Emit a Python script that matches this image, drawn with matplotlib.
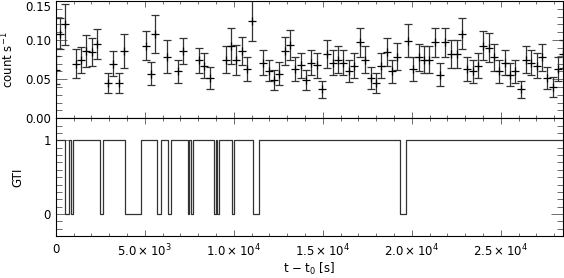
import matplotlib
matplotlib.use("Agg")
import matplotlib.pyplot as plt
from matplotlib.ticker import MultipleLocator, FixedLocator, FixedFormatter

# light curve bins: time [s], rate [count/s], 1-sigma error
time = [0, 242, 522, 1124, 1421, 1720, 2022, 2337, 2921, 3219, 3539, 3837,
        5056, 5354, 5600, 6236, 6854, 7152, 8051, 8348, 8652, 9551, 9848,
        10146, 10449, 10747, 11045, 11663, 11966, 12264, 12562, 12865, 13163,
        13461, 13764, 14062, 14360, 14663, 14961, 15258, 15562, 15860, 16157,
        16461, 16758, 17096, 17393, 17697, 17994, 18292, 18596, 18893, 19191,
        19792, 20090, 20393, 20691, 20989, 21292, 21590, 21888, 22191, 22528,
        22826, 23124, 23427, 23725, 24022, 24326, 24624, 24921, 25225, 25522,
        25820, 26124, 26421, 26719, 27022, 27320, 27618, 27921, 28219, 28483]
rate = [0.062, 0.108, 0.120, 0.070, 0.075, 0.086, 0.085, 0.095, 0.045, 0.070,
        0.045, 0.086, 0.093, 0.057, 0.108, 0.079, 0.060, 0.086, 0.074, 0.067,
        0.051, 0.075, 0.092, 0.075, 0.086, 0.063, 0.125, 0.071, 0.061, 0.049,
        0.057, 0.086, 0.094, 0.063, 0.068, 0.049, 0.071, 0.068, 0.037, 0.082,
        0.071, 0.075, 0.071, 0.061, 0.067, 0.097, 0.075, 0.052, 0.045, 0.067,
        0.085, 0.060, 0.079, 0.099, 0.063, 0.078, 0.075, 0.075, 0.097, 0.056,
        0.097, 0.082, 0.082, 0.108, 0.063, 0.060, 0.067, 0.093, 0.090, 0.078,
        0.060, 0.071, 0.056, 0.060, 0.037, 0.075, 0.071, 0.067, 0.078, 0.052,
        0.040, 0.063, 0.082]
rate_err = [0.018, 0.020, 0.026, 0.0185, 0.0166, 0.021, 0.018, 0.019, 0.013,
            0.016, 0.013, 0.022, 0.018, 0.0145, 0.0245, 0.021, 0.0145, 0.017,
            0.016, 0.016, 0.014, 0.017, 0.023, 0.019, 0.018, 0.015, 0.026,
            0.016, 0.013, 0.013, 0.0145, 0.018, 0.019, 0.015, 0.016, 0.013,
            0.016, 0.016, 0.011, 0.018, 0.016, 0.017, 0.016, 0.014, 0.016,
            0.0185, 0.017, 0.014, 0.013, 0.016, 0.018, 0.0145, 0.0175, 0.021,
            0.015, 0.017, 0.017, 0.017, 0.0185, 0.0145, 0.0185, 0.018, 0.018,
            0.020, 0.015, 0.0145, 0.016, 0.0185, 0.0185, 0.017, 0.0145, 0.016,
            0.0145, 0.0145, 0.011, 0.017, 0.016, 0.016, 0.017, 0.014, 0.0124,
            0.015, 0.018]

# good time intervals: switch times and state after each switch
gti_time = [0, 522, 747, 860, 972, 2489, 2676, 3893, 4775, 5708, 5899, 6292,
            6478, 7416, 7489, 7584, 7700, 8893, 8989, 9079, 9174, 9888, 10017,
            11101, 11421, 19343, 19663, 28500]
gti_val = [1, 0, 1, 0, 1, 0, 1, 0, 1, 0, 1, 0, 1, 0, 1, 0, 1, 0, 1, 0, 1, 0, 1,
           0, 1, 0, 1, 1]

x_ticks = [0, 5000, 10000, 15000, 20000, 25000]
x_labels = ["0", r"$5.0\times10^3$", r"$1.0\times10^4$", r"$1.5\times10^4$",
            r"$2.0\times10^4$", r"$2.5\times10^4$"]

plt.rcParams["font.family"] = ["DejaVu Sans"]
plt.rcParams["font.size"] = 8.5

W, H = 564, 278
left, right = 55.7, 563.0
fig = plt.figure(figsize=(W / 100, H / 100), dpi=100)
ax1 = fig.add_axes([left / W, (H - 118.3) / H, (right - left) / W, (118.3 - 1) / H])
ax2 = fig.add_axes([left / W, (H - 236) / H, (right - left) / W, (236 - 118.3) / H])

for ax in (ax1, ax2):
    ax.set_xlim(0, 28500)
    ax.xaxis.set_major_locator(FixedLocator(x_ticks))
    ax.xaxis.set_minor_locator(MultipleLocator(1000))
    ax.tick_params(which="both", direction="in", top=True, right=True,
                   width=0.6, color="#555555")
    ax.tick_params(axis="x", which="major", length=4)
    ax.tick_params(axis="x", which="minor", length=2)
    for s in ax.spines.values():
        s.set_linewidth(0.8)

ax1.errorbar(time, rate, yerr=rate_err, fmt="+", color="black", ms=6, mew=0.9,
             elinewidth=0.9, ecolor="#333333", capsize=2.6, capthick=0.9)
ax1.set_ylim(0, 0.15)
ax1.yaxis.set_major_locator(FixedLocator([0, 0.05, 0.10, 0.15]))
ax1.yaxis.set_major_formatter(FixedFormatter(["0.00", "0.05", "0.10", "0.15"]))
ax1.yaxis.set_minor_locator(MultipleLocator(0.01))
ax1.tick_params(axis="y", which="major", length=8)
ax1.tick_params(axis="y", which="minor", length=4)
ax1.tick_params(axis="x", labelbottom=False)
ax1.set_ylabel(r"count s$^{-1}$", labelpad=6)

ax2.step(gti_time, gti_val, where="post", color="#333333", lw=0.9)
ax2.set_ylim(-0.3, 1.3)
ax2.yaxis.set_major_locator(FixedLocator([0, 1]))
ax2.yaxis.set_major_formatter(FixedFormatter(["0", "1"]))
ax2.yaxis.set_minor_locator(MultipleLocator(0.1))
ax2.tick_params(axis="y", which="major", length=9)
ax2.tick_params(axis="y", which="minor", length=4)
ax2.xaxis.set_major_formatter(FixedFormatter(x_labels))
ax2.tick_params(axis="x", pad=5)
ax2.set_ylabel("GTI", labelpad=14)
ax2.set_xlabel(r"t $-$ t$_0$ [s]", labelpad=1)

# keep the top label inside the figure, as in the original
fig.canvas.draw()
ax1.yaxis.get_major_ticks()[-1].label1.set_verticalalignment("top")

fig.savefig("out.png", dpi=100)
